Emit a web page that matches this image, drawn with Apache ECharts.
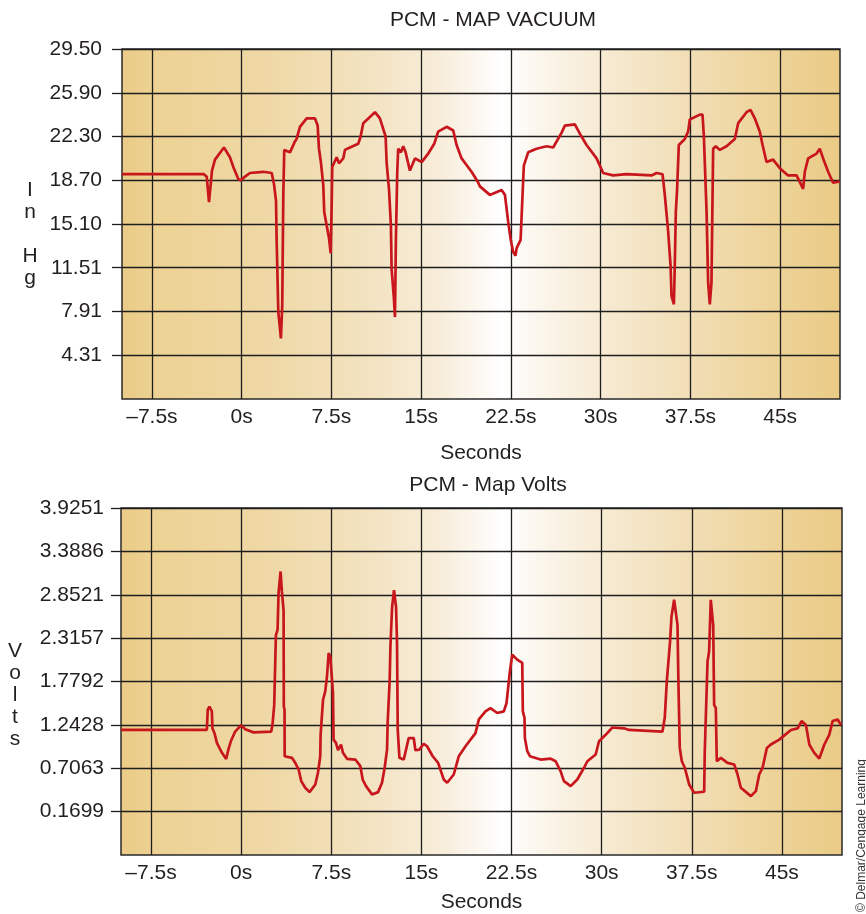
<!DOCTYPE html>
<html>
<head>
<meta charset="utf-8">
<script src="https://cdn.jsdelivr.net/npm/echarts@6/dist/echarts.min.js"></script>
<style>
html,body{margin:0;padding:0;background:#fff;}
#chart{width:866px;height:914px;}
</style>
</head>
<body>
<div id="chart"></div>
<script>
// ---- Data ----
var xTickValues = [-7.5, 0, 7.5, 15, 22.5, 30, 37.5, 45];
var xTickLabels = ['–7.5s', '0s', '7.5s', '15s', '22.5s', '30s', '37.5s', '45s'];
var topYTicks = [4.31, 7.91, 11.51, 15.10, 18.70, 22.30, 25.90, 29.50];
var bottomYTicks = [0.1699, 0.7063, 1.2428, 1.7792, 2.3157, 2.8521, 3.3886, 3.9251];

var topTime = [-10, -3.15, -2.92, -2.73, -2.48, -2.23, -1.48, -0.98, -0.70, -0.28, -0.08, 0.28, 0.69, 1.80, 2.51, 2.70, 2.87, 2.92, 3.06, 3.28, 3.39, 3.48, 3.56, 4.04, 4.45, 4.59, 4.87, 5.43, 6.12, 6.35, 6.46, 6.62, 6.82, 6.90, 7.10, 7.29, 7.44, 7.52, 7.57, 7.94, 8.13, 8.49, 8.63, 9.05, 9.74, 9.94, 10.16, 11.14, 11.55, 12.03, 12.11, 12.31, 12.47, 12.53, 12.72, 12.81, 12.89, 13.00, 13.08, 13.31, 13.50, 13.70, 14.06, 14.48, 15.04, 15.59, 16.09, 16.42, 17.13, 17.68, 17.96, 18.38, 19.21, 19.72, 19.91, 20.74, 21.72, 22.00, 22.27, 22.47, 22.69, 22.89, 22.97, 23.31, 23.48, 23.58, 23.94, 24.64, 25.48, 26.03, 26.73, 27.01, 27.84, 28.40, 28.82, 29.66, 30.21, 31.04, 32.16, 34.25, 34.67, 35.17, 35.36, 35.64, 35.84, 35.92, 36.12, 36.20, 36.28, 36.39, 36.53, 37.03, 37.31, 37.45, 38.29, 38.51, 38.62, 38.85, 38.98, 39.12, 39.26, 39.40, 39.62, 39.96, 40.52, 41.21, 41.49, 42.19, 42.52, 42.88, 43.30, 43.53, 43.86, 44.41, 44.97, 45.66, 46.37, 46.92, 47.06, 47.34, 48.04, 48.31, 48.59, 49.01, 49.42, 49.98];
var topVacuum = [19.2, 19.2, 19.0, 16.9, 19.5, 20.4, 21.4, 20.6, 19.8, 18.8, 18.7, 19.0, 19.3, 19.4, 19.3, 18.4, 17.0, 13.9, 7.9, 5.7, 8.4, 17.5, 21.2, 21.0, 21.9, 22.1, 23.1, 23.8, 23.8, 23.2, 21.3, 20.2, 18.3, 16.1, 15.0, 14.0, 12.7, 16.6, 19.8, 20.6, 20.1, 20.5, 21.2, 21.4, 21.7, 22.3, 23.4, 24.3, 23.8, 22.3, 20.2, 18.0, 15.0, 11.4, 9.0, 7.45, 13.9, 19.3, 21.3, 21.0, 21.5, 21.0, 19.5, 20.5, 20.2, 20.9, 21.7, 22.7, 23.1, 22.8, 21.6, 20.5, 19.4, 18.6, 18.2, 17.5, 17.9, 17.5, 15.3, 13.9, 12.8, 12.5, 13.1, 13.8, 17.7, 19.9, 21.0, 21.3, 21.5, 21.4, 22.6, 23.2, 23.3, 22.3, 21.6, 20.5, 19.3, 19.1, 19.2, 19.1, 19.3, 19.2, 17.5, 14.5, 11.7, 9.2, 8.5, 12.0, 16.1, 18.0, 21.6, 22.1, 22.7, 23.7, 24.1, 24.1, 22.4, 16.1, 10.3, 8.5, 10.3, 21.3, 21.5, 21.2, 21.5, 22.1, 23.4, 24.3, 24.5, 23.8, 22.7, 21.6, 20.2, 20.4, 19.7, 19.1, 19.1, 18.0, 19.4, 20.5, 20.9, 21.3, 20.5, 19.4, 18.5, 18.6];

var bottomTime = [-10, -3.08, -2.86, -2.78, -2.64, -2.44, -2.39, -2.22, -2.02, -1.61, -1.25, -1.06, -0.86, -0.50, 0.00, 0.33, 1.03, 2.50, 2.61, 2.75, 2.89, 3.03, 3.11, 3.28, 3.39, 3.53, 3.55, 3.61, 3.62, 4.22, 4.50, 4.78, 5.00, 5.33, 5.69, 6.17, 6.39, 6.58, 6.61, 6.81, 7.00, 7.14, 7.28, 7.42, 7.50, 7.64, 7.69, 7.89, 8.06, 8.31, 8.47, 8.81, 9.50, 9.92, 10.11, 10.39, 10.89, 11.39, 11.72, 11.94, 12.14, 12.19, 12.36, 12.42, 12.56, 12.72, 12.89, 12.97, 13.03, 13.17, 13.53, 13.72, 13.94, 14.36, 14.50, 14.83, 15.19, 15.47, 15.94, 16.39, 16.86, 17.14, 17.69, 18.11, 18.67, 19.50, 19.78, 20.33, 20.75, 21.31, 21.86, 22.08, 22.36, 22.56, 22.97, 23.39, 23.44, 23.58, 23.61, 23.81, 24.03, 24.92, 25.75, 26.17, 26.58, 26.86, 27.42, 27.97, 28.53, 28.81, 29.50, 29.78, 30.33, 30.89, 31.86, 32.28, 35.06, 35.25, 35.42, 35.69, 35.81, 36.03, 36.31, 36.39, 36.50, 36.67, 36.92, 37.28, 37.69, 38.53, 38.58, 38.81, 38.94, 39.08, 39.28, 39.36, 39.50, 39.58, 39.92, 40.47, 41.03, 41.31, 41.58, 42.42, 42.83, 43.11, 43.39, 43.75, 44.08, 44.78, 45.75, 46.31, 46.64, 47.00, 47.28, 47.69, 48.11, 48.53, 48.94, 49.22, 49.64, 49.92];
var bottomVolts = [1.18, 1.18, 1.18, 1.43, 1.47, 1.41, 1.20, 1.14, 1.02, 0.90, 0.82, 0.94, 1.04, 1.16, 1.24, 1.19, 1.15, 1.16, 1.25, 1.49, 2.35, 2.42, 2.87, 3.14, 2.89, 2.66, 1.47, 1.43, 0.855, 0.835, 0.773, 0.691, 0.547, 0.465, 0.411, 0.506, 0.650, 0.855, 1.12, 1.55, 1.66, 1.84, 2.13, 2.09, 1.92, 1.64, 1.06, 1.02, 0.929, 1.00, 0.897, 0.823, 0.814, 0.732, 0.567, 0.485, 0.383, 0.411, 0.527, 0.712, 0.937, 1.27, 1.80, 2.21, 2.70, 2.91, 2.70, 2.25, 1.18, 0.835, 0.814, 0.937, 1.08, 1.08, 0.929, 0.937, 1.01, 0.978, 0.855, 0.773, 0.567, 0.527, 0.629, 0.855, 0.978, 1.14, 1.31, 1.41, 1.45, 1.39, 1.41, 1.51, 1.90, 2.11, 2.05, 2.01, 1.41, 1.33, 1.08, 0.917, 0.855, 0.814, 0.826, 0.793, 0.670, 0.547, 0.485, 0.567, 0.712, 0.793, 0.876, 1.04, 1.12, 1.21, 1.20, 1.18, 1.16, 1.33, 1.78, 2.27, 2.58, 2.79, 2.48, 1.74, 0.958, 0.793, 0.712, 0.506, 0.403, 0.416, 0.917, 2.03, 2.15, 2.79, 2.48, 1.49, 1.45, 0.793, 0.835, 0.773, 0.752, 0.629, 0.465, 0.362, 0.423, 0.629, 0.712, 0.958, 1.00, 1.06, 1.18, 1.20, 1.29, 1.24, 1.00, 0.897, 0.826, 1.00, 1.12, 1.29, 1.31, 1.24];

// ---- Build ----
function zip(a, b) { return a.map(function (v, i) { return [v, b[i]]; }); }

var FONT = 'Liberation Sans, Arial, Helvetica, sans-serif';
var TEXT = '#231f20';
var GRIDLINE = '#1e1e1e';
var LINE = '#c8161d';

var bgGradient = {
  type: 'linear', x: 0, y: 0, x2: 1, y2: 0,
  colorStops: [
    { offset: 0, color: '#eacb86' },
    { offset: 0.05, color: '#edd294' },
    { offset: 0.2, color: '#efd8a5' },
    { offset: 0.35, color: '#f3e3c2' },
    { offset: 0.45, color: '#f8eedc' },
    { offset: 0.53, color: '#ffffff' },
    { offset: 0.6, color: '#faf3e6' },
    { offset: 0.7, color: '#f5e7cb' },
    { offset: 0.8, color: '#f1ddb3' },
    { offset: 0.9, color: '#eed49a' },
    { offset: 1, color: '#eacb86' }
  ]
};

function xAxisFor(gridIndex, labelMargin, nameGap) {
  return {
    type: 'value', gridIndex: gridIndex, min: -10, max: 50,
    name: 'Seconds', nameLocation: 'middle', nameGap: nameGap,
    nameTextStyle: { fontFamily: FONT, fontSize: 21, color: TEXT },
    axisLine: { show: false, onZero: false },
    axisTick: { show: false, customValues: xTickValues },
    axisLabel: {
      customValues: xTickValues, margin: labelMargin,
      fontFamily: FONT, fontSize: 21, color: TEXT,
      formatter: function (v) {
        var i = xTickValues.indexOf(v);
        return i >= 0 ? xTickLabels[i] : '';
      }
    },
    splitLine: { show: true, lineStyle: { color: GRIDLINE, width: 1.3 } }
  };
}

function yAxisFor(gridIndex, min, max, ticks, digits, labelMargin) {
  return {
    type: 'value', gridIndex: gridIndex, min: min, max: max,
    axisLine: { show: false, onZero: false },
    axisTick: { show: true, inside: false, customValues: ticks, length: 10, lineStyle: { color: GRIDLINE, width: 1.3 } },
    axisLabel: {
      customValues: ticks, margin: labelMargin,
      fontFamily: FONT, fontSize: 21, color: TEXT,
      formatter: function (v) { return v.toFixed(digits); }
    },
    splitLine: { show: true, lineStyle: { color: GRIDLINE, width: 1.3 } }
  };
}

var chart = echarts.init(document.getElementById('chart'), null, { renderer: 'canvas' });
chart.setOption({
  animation: false,
  backgroundColor: '#ffffff',
  grid: [
    { left: 122, top: 49, width: 718, height: 350, show: true, backgroundColor: bgGradient, borderColor: '#2a2a2a', borderWidth: 1.5 },
    { left: 121, top: 508, width: 721, height: 350, show: true, backgroundColor: bgGradient, borderColor: '#2a2a2a', borderWidth: 1.5 }
  ],
  xAxis: [xAxisFor(0, 8, 44), xAxisFor(1, 8, 37)],
  yAxis: [
    yAxisFor(0, 0.71, 29.5, topYTicks, 2, 20),
    yAxisFor(1, -0.3666, 3.9251, bottomYTicks, 4, 17)
  ],
  series: [
    { type: 'line', xAxisIndex: 0, yAxisIndex: 0, data: zip(topTime, topVacuum), showSymbol: false, lineStyle: { color: LINE, width: 2.7 }, silent: true },
    { type: 'line', xAxisIndex: 1, yAxisIndex: 1, data: zip(bottomTime, bottomVolts), showSymbol: false, lineStyle: { color: LINE, width: 2.7 }, silent: true }
  ],
  graphic: [
    { type: 'text', x: 493, y: 20, style: { text: 'PCM - MAP VACUUM', fill: TEXT, font: '21px ' + FONT, textAlign: 'center', textVerticalAlign: 'middle' } },
    { type: 'text', x: 488, y: 485, style: { text: 'PCM - Map Volts', fill: TEXT, font: '21px ' + FONT, textAlign: 'center', textVerticalAlign: 'middle' } },
    { type: 'text', x: 30, y: 234, style: { text: 'I\nn\n \nH\ng', fill: TEXT, font: '21px ' + FONT, lineHeight: 22, textAlign: 'center', textVerticalAlign: 'middle' } },
    { type: 'text', x: 15, y: 695, style: { text: 'V\no\nl\nt\ns', fill: TEXT, font: '21px ' + FONT, lineHeight: 22, textAlign: 'center', textVerticalAlign: 'middle' } },
    { type: 'text', x: 862, y: 912, rotation: Math.PI / 2, style: { text: '© Delmar/Cengage Learning', fill: '#333', font: '12px ' + FONT, textAlign: 'left', textVerticalAlign: 'middle' } }
  ]
});
</script>
</body>
</html>
